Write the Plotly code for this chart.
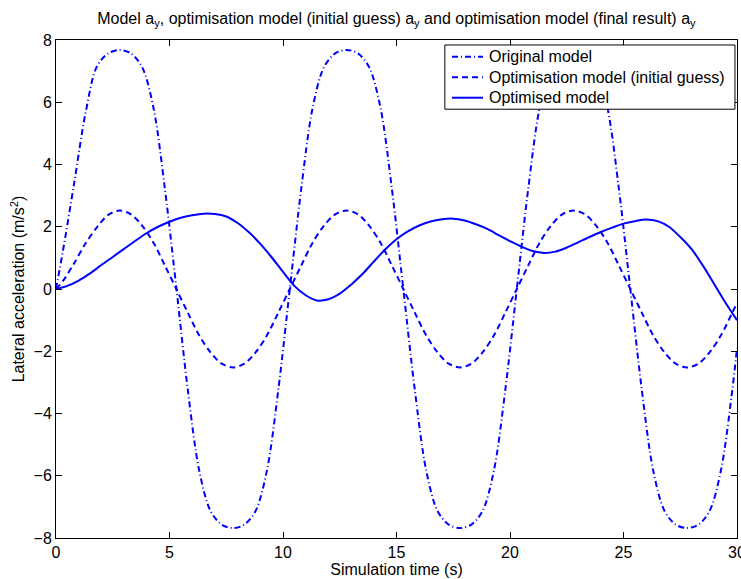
import plotly.graph_objects as go

# Time base shared by the original model and the initial-guess model (s)
t_ref = [0.0, 0.3, 0.8, 1.3, 1.8, 2.3, 2.8, 3.3, 3.8, 4.3, 4.8,
         5.3, 5.8, 6.3, 6.8, 7.3, 7.8, 8.3, 8.8, 9.3, 9.8,
         10.3, 10.8, 11.3, 11.8, 12.3, 12.8, 13.3, 13.8, 14.3, 14.8,
         15.3, 15.8, 16.3, 16.8, 17.3, 17.8, 18.3, 18.8, 19.3, 19.8,
         20.3, 20.8, 21.3, 21.8, 22.3, 22.8, 23.3, 23.8, 24.3, 24.8,
         25.3, 25.8, 26.3, 26.8, 27.3, 27.8, 28.3, 28.8, 29.3, 29.8, 30.0]

# Lateral acceleration of the original model (m/s^2)
ay_original = [0.0, 1.2, 3.4, 5.65, 7.15, 7.57, 7.68, 7.57, 7.12, 5.8, 3.2,
               0.05, -3.2, -5.8, -7.12, -7.57, -7.68, -7.57, -7.12, -5.8, -3.2,
               0.0, 3.2, 5.8, 7.12, 7.57, 7.68, 7.57, 7.12, 5.8, 3.2,
               0.0, -3.2, -5.8, -7.12, -7.57, -7.68, -7.57, -7.12, -5.8, -3.2,
               0.0, 3.2, 5.8, 7.12, 7.57, 7.68, 7.57, 7.12, 5.8, 3.2,
               0.0, -3.2, -5.8, -7.12, -7.57, -7.68, -7.57, -7.12, -5.8, -3.2, -1.9]

# Lateral acceleration of the optimisation model with the initial guess (m/s^2)
ay_initial = [0.0, 0.25, 0.83, 1.46, 1.98, 2.38, 2.52, 2.4, 2.03, 1.48, 0.75,
              0.0, -0.75, -1.48, -2.03, -2.4, -2.52, -2.4, -2.03, -1.48, -0.75,
              0.0, 0.75, 1.48, 2.03, 2.4, 2.52, 2.4, 2.03, 1.48, 0.75,
              0.0, -0.75, -1.48, -2.03, -2.4, -2.52, -2.4, -2.03, -1.48, -0.75,
              0.0, 0.75, 1.48, 2.03, 2.4, 2.52, 2.4, 2.03, 1.48, 0.75,
              0.0, -0.75, -1.48, -2.03, -2.4, -2.52, -2.4, -2.03, -1.48, -0.75, -0.45]

# Time base of the optimised model (s)
t_opt = [0.0, 0.5, 1.0, 1.5, 2.0, 2.5, 3.0, 3.5, 4.0, 4.5,
         5.0, 5.5, 6.0, 6.5, 7.0, 7.5, 8.0, 8.5, 9.0, 9.5,
         10.0, 10.5, 11.0, 11.5, 12.0, 12.5, 13.0, 13.5, 14.0, 14.5,
         15.0, 15.5, 16.0, 16.5, 17.0, 17.5, 18.0, 18.5, 19.0, 19.5,
         20.0, 20.5, 21.0, 21.5, 22.0, 22.5, 23.0, 23.5, 24.0, 24.5,
         25.0, 25.5, 26.0, 26.5, 27.0, 27.5, 28.0, 28.5, 29.0, 29.5, 30.0]

# Lateral acceleration of the optimised model (m/s^2)
ay_optimised = [0.0, 0.1, 0.27, 0.5, 0.77, 1.03, 1.29, 1.55, 1.8, 2.0,
                2.16, 2.29, 2.37, 2.42, 2.41, 2.33, 2.12, 1.82, 1.45, 1.02,
                0.55, 0.1, -0.2, -0.37, -0.33, -0.15, 0.14, 0.48, 0.88, 1.27,
                1.6, 1.85, 2.04, 2.17, 2.24, 2.26, 2.2, 2.08, 1.93, 1.73,
                1.54, 1.36, 1.22, 1.16, 1.2, 1.33, 1.5, 1.67, 1.83, 1.97,
                2.1, 2.18, 2.23, 2.18, 2.0, 1.67, 1.28, 0.75, 0.15, -0.45, -1.0]

series_names = ["Original model",
                "Optimisation model (initial guess)",
                "Optimised model"]
series_dash = ["6px,3px,1px,3px", "6px,4px", "solid"]

BLUE = "rgb(0,0,255)"
FONT = "Liberation Sans, Arial, Helvetica, sans-serif"

fig = go.Figure()
for t, ay, name, dash in zip([t_ref, t_ref, t_opt],
                             [ay_original, ay_initial, ay_optimised],
                             series_names, series_dash):
    fig.add_trace(go.Scatter(
        x=t, y=ay, mode="lines", name=name, showlegend=False,
        line=dict(color=BLUE, width=2, dash=dash, shape="spline", smoothing=0.9)))

# Boxed legend in the upper right corner of the axes (paper coordinates)
LEG_X0, LEG_X1 = 0.571, 0.997
LEG_Y0, LEG_Y1 = 0.861, 0.990
SAMPLE_X0, SAMPLE_X1 = 0.5815, 0.627
TEXT_X = 0.633
ROW_Y = [0.9665, 0.9251, 0.8841]

shapes = [dict(type="rect", xref="paper", yref="paper",
               x0=LEG_X0, x1=LEG_X1, y0=LEG_Y0, y1=LEG_Y1,
               line=dict(color="black", width=1), fillcolor="white", layer="above")]
annotations = []
for name, dash, y in zip(series_names, series_dash, ROW_Y):
    shapes.append(dict(type="line", xref="paper", yref="paper",
                       x0=SAMPLE_X0, x1=SAMPLE_X1, y0=y, y1=y, layer="above",
                       line=dict(color=BLUE, width=2, dash=dash)))
    annotations.append(dict(xref="paper", yref="paper", x=TEXT_X, y=y,
                            xanchor="left", yanchor="middle", showarrow=False,
                            text=name, font=dict(family=FONT, size=16, color="black")))

axis_common = dict(
    showgrid=False, zeroline=False, showline=True, linecolor="black", linewidth=1,
    mirror="ticks", ticks="inside", ticklen=6, tickcolor="black", tickwidth=1,
    tickfont=dict(family=FONT, size=16, color="black"),
    ticklabeloverflow="allow", automargin=False,
)

fig.update_layout(
    width=741, height=579,
    margin=dict(l=56, r=4, t=40, b=41),
    paper_bgcolor="white", plot_bgcolor="white",
    font=dict(family=FONT, size=16, color="black"),
    title=dict(
        text="Model a<sub>y</sub>, optimisation model (initial guess) a<sub>y</sub> "
             "and optimisation model (final result) a<sub>y</sub>",
        x=0.535, xanchor="center", y=0.978, yanchor="top",
        font=dict(family=FONT, size=16, color="black")),
    xaxis=dict(axis_common, range=[0, 30], dtick=5,
               title=dict(text="Simulation time (s)", standoff=0,
                          font=dict(family=FONT, size=16))),
    yaxis=dict(axis_common, range=[-8, 8], dtick=2,
               title=dict(text="Lateral acceleration (m/s<sup>2</sup>)", standoff=4,
                          font=dict(family=FONT, size=16))),
    shapes=shapes,
    annotations=annotations,
    showlegend=False,
)

fig.write_html("out.html")
